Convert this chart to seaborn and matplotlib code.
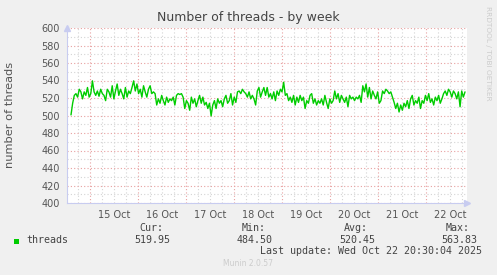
import matplotlib
matplotlib.use("Agg")
import matplotlib.pyplot as plt
import matplotlib.dates as mdates
from matplotlib.ticker import MultipleLocator, FuncFormatter, NullFormatter
from matplotlib.patches import Rectangle
import numpy as np
import pandas as pd
import seaborn as sns

# ---------------- data ----------------
title = "Number of threads - by week"
ylabel = "number of threads"
series_name = "threads"
threads_part1 = [500.7, 514, 523, 525, 521, 530, 527, 519, 527, 523, 532, 521, 525, 539.6,
                 527, 523, 528, 522, 530, 525, 523, 517, 530, 527, 521, 534, 519, 528,
                 536, 523, 530, 525, 519, 532, 521, 528, 525, 532, 539.6, 528, 536, 525,
                 530, 521, 534, 527, 521, 530, 534, 525, 527, 525, 512, 519, 514, 523,
                 517, 512, 521, 515, 519, 517, 521, 512, 523, 525, 524, 525, 521, 508,
                 517, 514, 506, 521, 514, 519, 510, 517, 523, 514, 521, 512, 515, 508,
                 514, 499.6, 512, 517, 508, 519, 514, 517, 510, 519, 523, 514, 517, 525,
                 512, 521, 515, 527, 528, 525, 530, 527, 525, 521, 527, 519, 523, 519,
                 512, 528, 532, 521, 527, 532, 523]
threads_part2 = [532, 521, 525, 519, 527, 517, 528, 523, 530, 527, 538, 523, 525, 517,
                 521, 515, 523, 512, 521, 515, 523, 517, 521, 508, 517, 514, 523, 525,
                 514, 519, 512, 517, 514, 519, 512, 523, 515, 508, 519, 514, 517, 528,
                 519, 525, 515, 523, 519, 515, 521, 510, 523, 519, 521, 517, 521, 519,
                 523, 515, 534, 527, 536, 521, 532, 519, 528, 523, 519, 527, 514, 517,
                 528, 525, 530, 528, 525, 527, 521, 515, 508, 514, 504, 512, 506, 514,
                 510, 517, 508, 519, 523, 512, 517, 514, 521, 508, 517, 514, 523, 517,
                 525, 515, 519, 512, 521, 517, 523, 514, 519, 525, 528, 523, 530, 527,
                 521, 528, 525, 519, 527, 510, 528, 521, 527]
threads_values = threads_part1 + threads_part2
data_start = "2025-10-14 14:30"
data_end = "2025-10-22 19:30"
view_start = "2025-10-14 12:30"
view_end = "2025-10-22 20:30"
y_min, y_max = 400, 600
legend_heads = ["Cur:", "Min:", "Avg:", "Max:"]
legend_vals = ["519.95", "484.50", "520.45", "563.83"]
last_update = "Last update: Wed Oct 22 20:30:04 2025"
footer = "Munin 2.0.57"
watermark = "RRDTOOL / TOBI OETIKER"

# ---------------- styling ----------------
W, H = 497, 275
BG = "#F0F0F0"
LINE = "#00CC00"
AXIS = "#C8CCF0"
MAJ = "#E8A0A0"
MINC = "#D4D4D4"
TXT = "#555555"

sns.set_style("white")
plt.rcParams["font.family"] = ["DejaVu Sans"]

times = pd.date_range(data_start, data_end, periods=len(threads_values))
df = pd.DataFrame({"time": times, "value": threads_values})

fig = plt.figure(figsize=(W / 100, H / 100), dpi=100, facecolor=BG)
ax = fig.add_axes([67 / W, 1 - 203 / H, 400 / W, 175 / H])
ax.set_facecolor("white")

sns.lineplot(data=df, x="time", y="value", ax=ax, color=LINE, linewidth=1.0, zorder=5)

ax.set_xlim(pd.Timestamp(view_start), pd.Timestamp(view_end))
ax.set_ylim(y_min, y_max)

# y axis ticks
ax.yaxis.set_major_locator(MultipleLocator(20))
ax.yaxis.set_minor_locator(MultipleLocator(10))
ax.yaxis.set_major_formatter(FuncFormatter(lambda v, p: f"{int(v)}"))

# x axis ticks: midnight major, 6-hour minor, labels at noon
ax.xaxis.set_major_locator(mdates.DayLocator())
ax.xaxis.set_major_formatter(NullFormatter())
ax.xaxis.set_minor_locator(mdates.HourLocator(byhour=[0, 6, 12, 18]))


def noon_fmt(v, p):
    d = mdates.num2date(v)
    if d.hour == 12:
        return f"{d.day} Oct"
    return ""


ax.xaxis.set_minor_formatter(FuncFormatter(noon_fmt))

ax.grid(True, which="major", color=MAJ, linestyle=(0, (1, 2)), linewidth=0.8, zorder=1)
ax.grid(True, which="minor", color=MINC, linestyle=(0, (1, 2)), linewidth=0.8, zorder=0)
ax.set_axisbelow(True)

ax.tick_params(axis="y", which="major", length=3, width=0.8, color="#AAAAAA",
               labelsize=7, labelcolor=TXT, pad=2)
ax.tick_params(axis="y", which="minor", length=2, width=0.8, color="#CCCCCC")
ax.tick_params(axis="x", which="major", length=3, width=0.8, color=MAJ)
ax.tick_params(axis="x", which="minor", length=2, width=0.8, color="#CCCCCC",
               labelsize=7, labelcolor=TXT, pad=3)

for s in ["top", "right"]:
    ax.spines[s].set_visible(False)
for s in ["left", "bottom"]:
    ax.spines[s].set_color(AXIS)
    ax.spines[s].set_linewidth(0.8)

# axis arrows
ax.plot([0], [1.0], marker="^", markersize=4, color=AXIS, transform=ax.transAxes,
        clip_on=False, zorder=6)
ax.plot([1.0], [0], marker=">", markersize=4, color=AXIS, transform=ax.transAxes,
        clip_on=False, zorder=6)

ax.set_xlabel("")
ax.set_ylabel("")


def fx(x):
    return x / W


def fy(y):
    return 1 - y / H


fig.text(fx(248), fy(18), title, ha="center", va="center", fontsize=9, color="#444444")
fig.text(fx(10), fy(115), ylabel, ha="center", va="center", rotation=90,
         fontsize=8.2, color=TXT)
fig.text(fx(488), fy(53), watermark, ha="center", va="center", rotation=270,
         fontsize=5.3, color="#CCCCCC")

# legend
fig.patches.append(Rectangle((fx(14), fy(244)), 5 / W, 5 / H, transform=fig.transFigure,
                             facecolor=LINE, edgecolor="none"))
mono = "DejaVu Sans Mono"
fig.text(fx(26), fy(240), series_name, ha="left", va="center", family=mono,
         fontsize=7.2, color="#444444")
head_right = [163, 266, 368, 470]
val_right = [170, 273, 375, 477]
for h, v, hr, vr in zip(legend_heads, legend_vals, head_right, val_right):
    fig.text(fx(hr), fy(228), h, ha="right", va="center", family=mono,
             fontsize=7.2, color="#444444")
    fig.text(fx(vr), fy(240), v, ha="right", va="center", family=mono,
             fontsize=7.2, color="#444444")
fig.text(fx(482), fy(251), last_update, ha="right", va="center", family=mono,
         fontsize=7.2, color="#444444")
fig.text(fx(248), fy(264), footer, ha="center", va="center", fontsize=5.5,
         color="#CCCCCC")

fig.savefig("out.png", dpi=100, facecolor=BG)
